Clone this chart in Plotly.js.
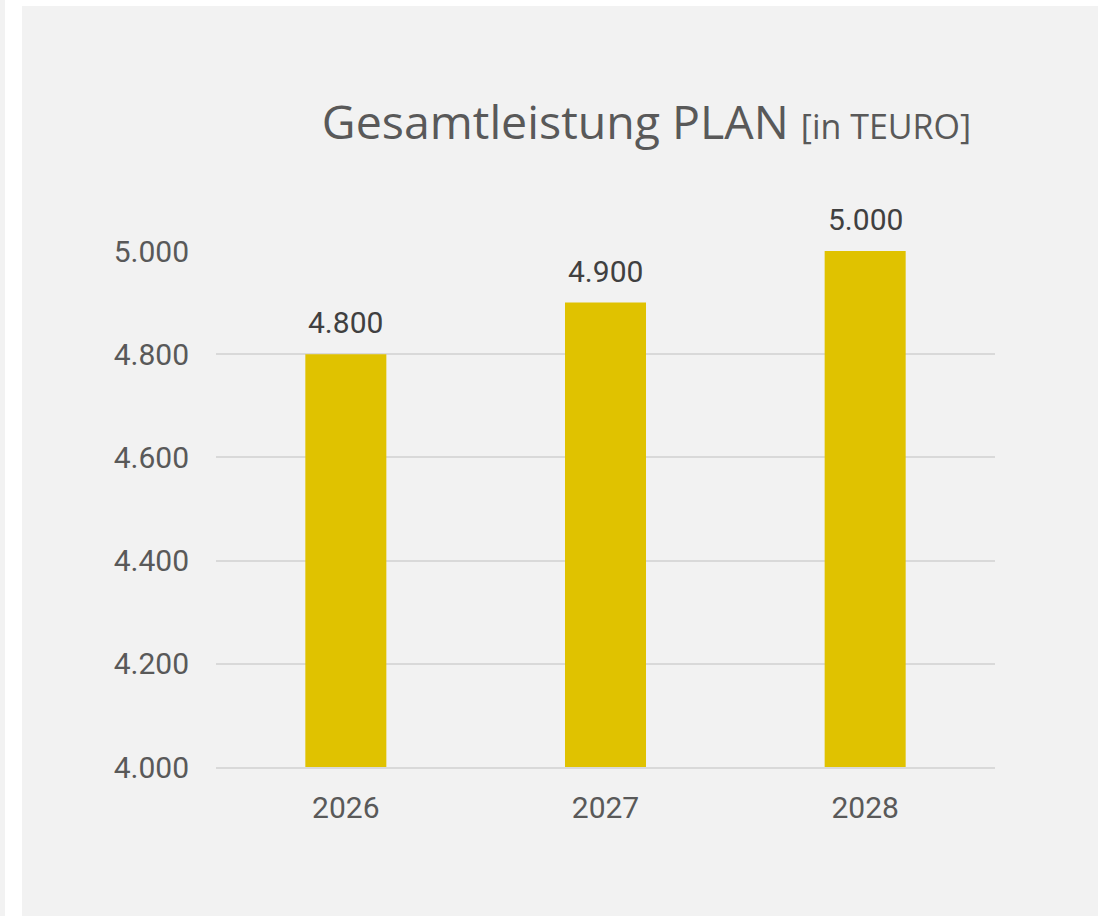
<!DOCTYPE html>
<html>
<head>
<meta charset="utf-8">
<script src="https://cdn.plot.ly/plotly-3.0.1.min.js"></script>
<style>
  html, body { margin: 0; padding: 0; background: #ffffff; width: 1098px; height: 916px; overflow: hidden; }
  #leftstrip { position: absolute; left: 0; top: 0; width: 5px; height: 916px; background: #f2f2f2; }
  #chart { position: absolute; left: 22px; top: 6px; width: 1076px; height: 910px; }
</style>
</head>
<body>
<div id="leftstrip"></div>
<div id="chart"></div>
<script>
const years = ['2026', '2027', '2028'];
const values = [4800, 4900, 5000];
const valueLabels = ['4.800', '4.900', '5.000'];
const tickValues = [4000, 4200, 4400, 4600, 4800, 5000];
const tickLabels = ['4.000', '4.200', '4.400', '4.600', '4.800', '5.000'];

const FONT = 'Roboto, "Noto Sans", sans-serif';
const TITLE_FONT = '"Open Sans", Roboto, sans-serif';

const trace = {
  type: 'bar',
  x: years,
  y: values,
  marker: { color: '#e0c200' },
  hoverinfo: 'none'
};

const annotations = years.map((yr, i) => ({
  x: i, y: values[i], xref: 'x', yref: 'y',
  text: valueLabels[i], showarrow: false,
  yanchor: 'bottom', yshift: 12,
  font: { family: FONT, size: 30, color: '#404040' }
}));

const layout = {
  width: 1076, height: 910,
  paper_bgcolor: '#f2f2f2', plot_bgcolor: '#f2f2f2',
  margin: { l: 194, r: 103, t: 245, b: 149 },
  showlegend: false,
  bargap: 0.688,
  title: {
    text: 'Gesamtleistung PLAN <span style="font-size:34px">[in TEURO]</span>',
    font: { family: TITLE_FONT, size: 46.5, color: '#595959' },
    x: 0.5804, xanchor: 'center', y: 0.872, yanchor: 'middle'
  },
  xaxis: {
    type: 'category',
    categoryarray: years,
    range: [-0.5, 2.5],
    tickfont: { family: FONT, size: 30, color: '#595959' },
    showgrid: false, zeroline: false, showline: true, linecolor: '#d9d9d9', linewidth: 2,
    ticks: '', ticklabelstandoff: 13
  },
  yaxis: {
    range: [4000, 5000],
    tickvals: tickValues, ticktext: tickLabels,
    tickfont: { family: FONT, size: 30, color: '#595959' },
    showgrid: true, gridcolor: '#d9d9d9', gridwidth: 2,
    zeroline: false, showline: false, ticks: '', ticklabelstandoff: 26
  },
  annotations: annotations
};

Plotly.newPlot('chart', [trace], layout, { displayModeBar: false, staticPlot: true });
</script>
</body>
</html>
